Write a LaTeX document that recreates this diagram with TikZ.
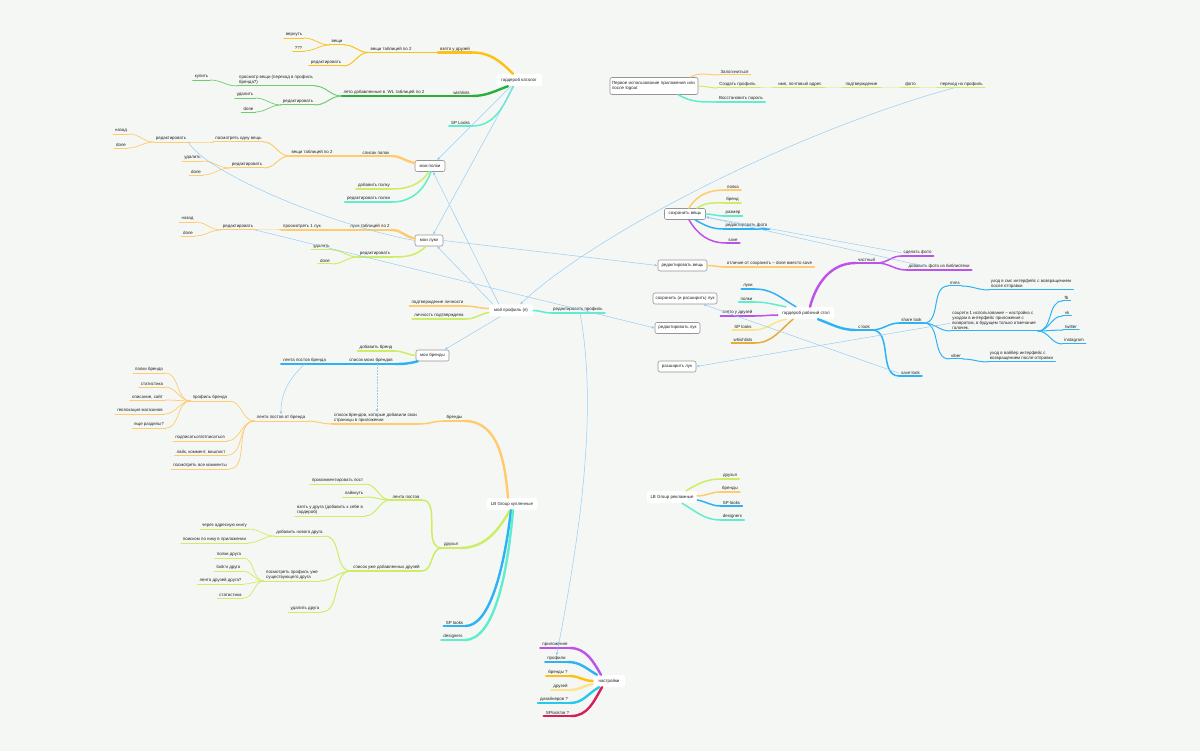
\documentclass[tikz,border=0pt]{standalone}
\usepackage{fontspec}
\setmainfont{Liberation Sans}
\usetikzlibrary{arrows.meta}
\definecolor{bg}{RGB}{245,247,244}
\definecolor{txt}{RGB}{35,35,35}
\definecolor{boxc}{RGB}{150,150,150}
\definecolor{cGold}{RGB}{255,192,20}
\definecolor{cOrange}{RGB}{255,203,110}
\definecolor{cGreen}{RGB}{40,175,60}
\definecolor{cLGreen}{RGB}{110,205,110}
\definecolor{cLime}{RGB}{205,238,100}
\definecolor{cTeal}{RGB}{95,238,205}
\definecolor{cBlue}{RGB}{45,178,245}
\definecolor{cPurple}{RGB}{190,80,235}
\definecolor{cPale}{RGB}{250,228,140}
\definecolor{cDOrange}{RGB}{232,172,60}
\definecolor{cCyan}{RGB}{40,200,235}
\definecolor{cCrimson}{RGB}{215,30,90}
\definecolor{cX}{RGB}{150,205,245}
\newcommand\mmfs{\fontsize{4.4}{5.2}\selectfont}
\newcommand\mmn[5]{\node[lbl] (#2) at (#3,#4) {#5};\draw[#1] (#2.south west) -- (#2.south east);}
\newcommand\lkl[3]{\draw[#1] (#2.south west) to[out=180,in=0] (#3.south east);}
\newcommand\lkr[3]{\draw[#1] (#2.south east) to[out=0,in=180] (#3.south west);}
\tikzset{
  lbl/.style={anchor=south,inner xsep=2pt,inner ysep=1pt,font=\mmfs,text=txt,align=left},
  gbox/.style={draw=boxc,fill=white,rounded corners=2pt,line width=0.6pt,font=\mmfs,text=txt,inner sep=0pt,minimum height=11pt},
  wbox/.style={fill=white,rounded corners=1.5pt,font=\mmfs,text=txt,inner sep=0pt,minimum height=12pt},
  wa/.style={line width=2.4pt,line cap=round},
  wb/.style={line width=1.5pt,line cap=round},
  wc/.style={line width=1pt,line cap=round},
  wd/.style={line width=0.7pt,line cap=round},
  xl/.style={draw=cX,line width=0.5pt,-{Latex[length=3pt,width=2.6pt]}},
}
\begin{document}
\begin{tikzpicture}[x=1pt,y=-1pt]
\fill[bg] (0,0) rectangle (1200,751);
\useasboundingbox (0,0) rectangle (1200,751);

% ===== гардероб каталог =====
\node[wbox,minimum width=46pt] (gk) at (519,80) {гардероб каталог};
\mmn{cGold,wa}{vzy}{455}{52.5}{взято у друзей}
\mmn{cGold,wb}{vtA}{391}{52.5}{вещи таблицей по 2}
\mmn{cGold,wc}{veshi}{337}{45}{вещи}
\mmn{cGold,wd}{vern}{294}{38}{вернуть}
\mmn{cGold,wd}{qqq}{298.5}{51}{???}
\mmn{cGold,wc}{redA}{326}{66}{редактировать}
\draw[cGold,wa] ([xshift=-6pt]gk.north) to[out=135,in=0] (vzy.south east);
\lkl{cGold,wb}{vzy}{vtA}
\lkl{cGold,wc}{vtA}{veshi}
\lkl{cGold,wc}{vtA}{redA}
\lkl{cGold,wd}{veshi}{vern}
\lkl{cGold,wd}{veshi}{qqq}

\mmn{cGreen,wa}{wl}{461.5}{96}{wishlists}
\mmn{cGreen,wb}{leto}{384}{96}{лето добавленные в\ \ WL таблицей по 2}
\mmn{cLGreen,wc}{prosm}{276}{86}{просмотр вещи (переход в профиль\\бренда?)}
\mmn{cLGreen,wd}{kupit}{201.5}{80}{купить}
\mmn{cLGreen,wc}{redB}{298}{105}{редактировать}
\mmn{cLGreen,wd}{udB}{245}{98}{удалить}
\mmn{cLGreen,wd}{doneB}{248.5}{112}{done}
\draw[cGreen,wa] ([xshift=-11pt]gk.south) to[out=-160,in=0] (wl.south east);
\lkl{cGreen,wb}{wl}{leto}
\lkl{cLGreen,wc}{leto}{prosm}
\lkl{cLGreen,wc}{leto}{redB}
\lkl{cLGreen,wd}{prosm}{kupit}
\lkl{cLGreen,wd}{redB}{udB}
\lkl{cLGreen,wd}{redB}{doneB}

\mmn{cTeal,wb}{spl}{460.5}{126}{SP Looks}
\draw[cTeal,wb] ([xshift=-6pt]gk.south) to[out=-115,in=0] (spl.south east);

% ===== мои полки =====
\node[gbox,minimum width=30pt] (polki) at (430,166) {мои полки};
\mmn{cOrange,wa}{spol}{376}{156}{список полок}
\mmn{cOrange,wb}{vtB}{312}{156}{вещи таблицей по 2}
\mmn{cOrange,wc}{posm}{238.5}{142}{посмотреть одну вещь}
\mmn{cOrange,wd}{redC}{171}{142}{редактировать}
\mmn{cOrange,wd}{nazC}{121}{134}{назад}
\mmn{cOrange,wd}{doneC}{121}{148}{done}
\mmn{cOrange,wc}{redD}{247}{168}{редактировать}
\mmn{cOrange,wd}{udD}{192.5}{161}{удалить}
\mmn{cOrange,wd}{doneD}{196}{175}{done}
\mmn{cLime,wb}{dobp}{374}{189}{добавить полку}
\mmn{cTeal,wb}{redp}{368.5}{202}{редактировать полки}
\draw[cOrange,wa] ([yshift=3pt]polki.west) to[out=170,in=0] (spol.south east);
\lkl{cOrange,wb}{spol}{vtB}
\lkl{cOrange,wc}{vtB}{posm}
\lkl{cOrange,wc}{vtB}{redD}
\lkl{cOrange,wd}{posm}{redC}
\lkl{cOrange,wd}{redC}{nazC}
\lkl{cOrange,wd}{redC}{doneC}
\lkl{cOrange,wd}{redD}{udD}
\lkl{cOrange,wd}{redD}{doneD}
\draw[cLime,wb] ([xshift=-1pt]polki.south) to[out=-125,in=0] (dobp.south east);
\draw[cTeal,wb] ([xshift=1pt]polki.south) to[out=-110,in=0] (redp.south east);

% ===== мои луки =====
\node[gbox,minimum width=28pt] (luki) at (429,240.5) {мои луки};
\mmn{cOrange,wa}{ltC}{370}{230}{луки таблицей по 2}
\mmn{cOrange,wb}{pl}{302}{230}{просмотреть 1 лук}
\mmn{cOrange,wc}{redE}{238}{230}{редактировать}
\mmn{cOrange,wd}{nazE}{187.5}{222}{назад}
\mmn{cOrange,wd}{doneE}{188}{236}{done}
\mmn{cLime,wb}{redF}{375}{257}{редактировать}
\mmn{cLime,wc}{udF}{321.5}{250}{удалить}
\mmn{cLime,wc}{doneF}{325}{264}{done}
\draw[cOrange,wa] ([yshift=2pt]luki.west) to[out=170,in=0] (ltC.south east);
\lkl{cOrange,wb}{ltC}{pl}
\lkl{cOrange,wc}{pl}{redE}
\lkl{cOrange,wd}{redE}{nazE}
\lkl{cOrange,wd}{redE}{doneE}
\draw[cLime,wb] ([xshift=-3pt]luki.south) to[out=-135,in=0] (redF.south east);
\lkl{cLime,wc}{redF}{udF}
\lkl{cLime,wc}{redF}{doneF}

% ===== первое использование =====
\node[gbox,minimum width=88pt,minimum height=17pt,text width=84pt,align=left] (fbx) at (654,86) {Первое использование приложения или\\после logout};
\mmn{cOrange,wc}{zal}{734.5}{75}{Залогиниться}
\mmn{cLime,wc}{sozd}{737.5}{88}{Создать профиль}
\mmn{cLime,wc}{imya}{800}{88}{имя, почтовый адрес}
\mmn{cLime,wc}{podt}{861.5}{88}{подтверждение}
\mmn{cLime,wc}{foto}{910.5}{88}{фото}
\mmn{cLime,wc}{perh}{961.5}{88}{переход на профиль}
\mmn{cTeal,wb}{vosst}{741}{102}{Восстановить пароль}
\draw[cOrange,wc] ([xshift=-8pt]fbx.north east) to[out=30,in=180] (zal.south west);
\draw[cLime,wc] (fbx.east) to[out=0,in=180] (sozd.south west);
\lkr{cLime,wc}{sozd}{imya}
\lkr{cLime,wc}{imya}{podt}
\lkr{cLime,wc}{podt}{foto}
\lkr{cLime,wc}{foto}{perh}
\draw[cTeal,wb] ([xshift=-20pt]fbx.south east) to[out=-30,in=180] (vosst.south west);

% ===== сохранить вещь =====
\node[gbox,minimum width=41pt] (sv) at (685,214) {сохранить вещь};
\mmn{cOrange,wb}{polka}{733}{190}{полка}
\mmn{cLime,wb}{brand}{732.5}{203}{бренд}
\mmn{cTeal,wb}{razm}{733}{216}{размер}
\mmn{cBlue,wb}{redf}{746.5}{229}{редактировать фото}
\mmn{cPurple,wb}{save}{733}{243}{save}
\draw[cOrange,wb] ([xshift=4pt]sv.north) to[out=60,in=180] (polka.south west);
\draw[cLime,wb] ([xshift=12pt]sv.north) to[out=35,in=180] (brand.south west);
\draw[cTeal,wb] (sv.east) to[out=0,in=180] (razm.south west);
\draw[cBlue,wb] ([xshift=10pt]sv.south) to[out=-30,in=180] (redf.south west);
\draw[cPurple,wb] ([xshift=4pt]sv.south) to[out=-60,in=180] (save.south west);

% ===== редактировать вещь =====
\node[gbox,minimum width=49pt] (rv) at (682.5,265.5) {редактировать вещь};
\mmn{cOrange,wb}{otl}{769.5}{267}{отличие от сохранить – done вместо save}
\draw[cOrange,wb] (rv.east) to[out=0,in=180] (otl.south west);

% ===== гардероб рабочий стол =====
\node[wbox,minimum width=56pt] (grs) at (806,313) {гардероб рабочий стол};
\mmn{cBlue,wb}{lukiG}{748}{289}{луки}
\mmn{cTeal,wb}{polkiG}{746.5}{302}{полки}
\mmn{cPurple,wb}{vzyG}{737.5}{316}{взято у друзей}
\mmn{cPale,wb}{splG}{743}{330}{SP looks}
\mmn{cDOrange,wb}{whG}{743}{343}{whishlists}
\draw[cBlue,wb] ([xshift=-10pt]grs.north) to[out=150,in=0] (lukiG.south east);
\draw[cTeal,wb] ([xshift=-20pt]grs.north) to[out=170,in=0] (polkiG.south east);
\draw[cPurple,wb] ([yshift=-2pt]grs.west) to[out=180,in=0] (vzyG.south east);
\draw[cPale,wb] ([xshift=-20pt]grs.south) to[out=-170,in=0] (splG.south east);
\draw[cDOrange,wb] ([xshift=-13pt]grs.south) to[out=-140,in=0] (whG.south east);
\mmn{cPurple,wa}{chast}{866.5}{263}{частный}
\mmn{cPurple,wb}{sdf}{917.5}{256}{сделать фото}
\mmn{cPurple,wb}{dfb}{939}{270}{добавить фото из библиотеки}
\draw[cPurple,wa] ([xshift=4pt]grs.north) to[out=75,in=180] (chast.south west);
\lkr{cPurple,wb}{chast}{sdf}
\lkr{cPurple,wb}{chast}{dfb}
\mmn{cBlue,wa}{clook}{864}{330}{с look}
\draw[cBlue,wa] ([xshift=12pt]grs.south) to[out=-20,in=180] (clook.south west);
\mmn{cBlue,wb}{share}{911.5}{323}{share look}
\mmn{cBlue,wb}{savel}{910.5}{376}{save look}
\lkr{cBlue,wb}{clook}{share}
\lkr{cBlue,wb}{clook}{savel}
\mmn{cBlue,wc}{mms}{955}{286}{mms}
\mmn{cBlue,wc}{socs}{994}{331}{соцсети 1 использование – настройка с\\уходом в интерфейс приложения с\\возвратом, в будущем только отмечание\\галочек.}
\mmn{cBlue,wc}{viber}{956}{359}{viber}
\lkr{cBlue,wc}{share}{mms}
\lkr{cBlue,wc}{share}{socs}
\lkr{cBlue,wc}{share}{viber}
\mmn{cBlue,wc}{uhsms}{1031}{290}{уход в смс интерфейс с возвращением\\после отправки}
\mmn{cBlue,wc}{uhv}{1021.5}{362}{уход в вайбер интерфейс с\\возвращением после отправки}
\lkr{cBlue,wc}{mms}{uhsms}
\lkr{cBlue,wc}{viber}{uhv}
\mmn{cBlue,wc}{fbk}{1066.5}{301}{fb}
\mmn{cBlue,wc}{vk}{1067}{316}{vk}
\mmn{cBlue,wc}{tw}{1071}{330}{twitter}
\mmn{cBlue,wc}{inst}{1074}{344}{instagram}
\lkr{cBlue,wc}{socs}{fbk}
\lkr{cBlue,wc}{socs}{vk}
\lkr{cBlue,wc}{socs}{tw}
\lkr{cBlue,wc}{socs}{inst}

% ===== лук boxes =====
\node[gbox,minimum width=64pt] (sirl) at (685,298.5) {сохранить (и расширить) лук};
\node[gbox,minimum width=45pt] (rl) at (677.5,328) {редактировать лук};
\node[gbox,minimum width=38pt] (rasl) at (677,366.5) {расширить лук};

% ===== мой профиль =====
\node[wbox,minimum width=44pt] (mp) at (511,310.5) {мой профиль (я)};
\mmn{cOrange,wb}{podl}{437.5}{306}{подтверждение личности}
\mmn{cLime,wb}{lich}{439}{319}{личность подтверждена}
\mmn{cTeal,wb}{redpr}{578}{313}{редактировать профиль}
\draw[cOrange,wb] ([yshift=2pt]mp.west) to[out=180,in=0] (podl.south east);
\draw[cLime,wb] ([yshift=-2pt]mp.west) to[out=-170,in=0] (lich.south east);
\draw[cTeal,wb] (mp.east) to[out=0,in=180] (redpr.south west);

% ===== мои бренды =====
\node[gbox,minimum width=33pt] (mb) at (432.5,355.5) {мои бренды};
\mmn{cLime,wb}{dobb}{376}{351}{добавить бренд}
\mmn{cBlue,wa}{smb}{371}{364}{список моих брендов}
\mmn{cBlue,wb}{lpb}{304.5}{364}{лента постов бренда}
\draw[cLime,wb] (mb.west) to[out=175,in=0] (dobb.south east);
\draw[cBlue,wa] ([xshift=2pt]mb.south west) to[out=-165,in=0] (smb.south east);
\lkl{cBlue,wb}{smb}{lpb}

% ===== LB Group купленные =====
\node[wbox,minimum width=50pt] (lbk) at (512,504) {LB Group купленные};
\mmn{cOrange,wa}{brk}{454.5}{421}{бренды}
\mmn{cOrange,wb}{spbr}{375.5}{424}{список брендов, которые добавили свои\\страницы в приложении}
\mmn{cOrange,wc}{lpob}{281}{421}{лента постов от бренда}
\mmn{cOrange,wd}{prb}{210}{401}{профиль бренда}
\mmn{cOrange,wd}{pbA}{149}{373}{полки бренда}
\mmn{cOrange,wd}{pbB}{152}{387}{статистика}
\mmn{cOrange,wd}{pbC}{147.5}{400}{описание, сайт}
\mmn{cOrange,wd}{pbD}{140}{414}{геолокация магазинов}
\mmn{cOrange,wd}{pbE}{149}{428}{еще разделы?}
\mmn{cOrange,wd}{pod}{200}{441}{подписаться/отписаться}
\mmn{cOrange,wd}{layk}{201}{455}{лайк, коммент, вишлист}
\mmn{cOrange,wd}{vsek}{200}{469}{посмотреть все комменты}
\draw[cOrange,wa] ([xshift=-4pt]lbk.north) to[out=95,in=0] (brk.south east);
\lkl{cOrange,wb}{brk}{spbr}
\lkl{cOrange,wc}{spbr}{lpob}
\lkl{cOrange,wd}{lpob}{prb}
\lkl{cOrange,wd}{prb}{pbA}
\lkl{cOrange,wd}{prb}{pbB}
\lkl{cOrange,wd}{prb}{pbC}
\lkl{cOrange,wd}{prb}{pbD}
\lkl{cOrange,wd}{prb}{pbE}
\lkl{cOrange,wd}{lpob}{pod}
\lkl{cOrange,wd}{lpob}{layk}
\lkl{cOrange,wd}{lpob}{vsek}

\mmn{cLime,wa}{dr}{451}{548}{друзья}
\mmn{cLime,wb}{lp}{406}{500}{лента постов}
\mmn{cLime,wc}{prk}{337.5}{484}{прокомментировать пост}
\mmn{cLime,wc}{layn}{354}{497}{лайкнуть}
\mmn{cLime,wc}{vzd}{330}{516}{взять у друга (добавить к себе в\\гардероб)}
\mmn{cLime,wb}{sud}{386.5}{571}{список уже добавленных друзей}
\mmn{cLime,wc}{dnd}{299.5}{536}{добавить нового друга}
\mmn{cLime,wd}{cherez}{224.5}{529}{через адресную книгу}
\mmn{cLime,wd}{poisk}{214.5}{543}{поиском по нику в приложении}
\mmn{cLime,wc}{pps}{292}{581}{посмотреть профиль уже\\существующего друга}
\mmn{cLime,wd}{pd}{229}{558}{полки друга}
\mmn{cLime,wd}{ld}{228.5}{571}{look'и друга}
\mmn{cLime,wd}{ldd}{220.5}{584}{лента друзей друга?}
\mmn{cLime,wd}{std}{230.5}{598}{статистика}
\mmn{cLime,wc}{udd}{305}{612}{удалить друга}
\draw[cLime,wa] ([xshift=-2pt]lbk.south) to[out=-120,in=0] (dr.south east);
\lkl{cLime,wb}{dr}{lp}
\lkl{cLime,wb}{dr}{sud}
\lkl{cLime,wc}{lp}{prk}
\lkl{cLime,wc}{lp}{layn}
\lkl{cLime,wc}{lp}{vzd}
\lkl{cLime,wc}{sud}{dnd}
\lkl{cLime,wc}{sud}{pps}
\lkl{cLime,wc}{sud}{udd}
\lkl{cLime,wd}{dnd}{cherez}
\lkl{cLime,wd}{dnd}{poisk}
\lkl{cLime,wd}{pps}{pd}
\lkl{cLime,wd}{pps}{ld}
\lkl{cLime,wd}{pps}{ldd}
\lkl{cLime,wd}{pps}{std}

\mmn{cBlue,wa}{spk}{454.5}{626}{SP looks}
\mmn{cTeal,wa}{dsk}{453}{640}{designers}
\draw[cBlue,wa] ([xshift=-1pt]lbk.south) .. controls +(-7,60) and +(24,0) .. (spk.south east);
\draw[cTeal,wa] ([xshift=1pt]lbk.south) .. controls +(-6,70) and +(28,0) .. (dsk.south east);

% ===== LB Group рекламные =====
\node[wbox,minimum width=50pt] (lbr) at (672,497) {LB Group рекламные};
\mmn{cLime,wb}{drl}{730}{479}{друзья}
\mmn{cOrange,wb}{brl}{730}{492}{бренды}
\mmn{cBlue,wb}{spr}{731.5}{506}{SP looks}
\mmn{cTeal,wb}{dsr}{732.5}{520}{designers}
\draw[cLime,wb] ([xshift=14pt]lbr.north) to[out=30,in=180] (drl.south west);
\draw[cOrange,wb] ([yshift=1pt]lbr.east) to[out=0,in=180] (brl.south west);
\draw[cBlue,wb] ([yshift=-3pt]lbr.east) to[out=-10,in=180] (spr.south west);
\draw[cTeal,wb] ([xshift=10pt]lbr.south) to[out=-30,in=180] (dsr.south west);

% ===== настройки =====
\node[wbox,minimum width=32pt] (nast) at (609,681) {настройки};
\mmn{cPurple,wa}{pril}{555}{648}{приложение}
\mmn{cBlue,wa}{prof}{556.5}{662}{профили}
\mmn{cGold,wa}{brn}{558}{676}{бренды ?}
\mmn{cPale,wa}{dru}{560.5}{690}{друзей}
\mmn{cCyan,wa}{diz}{554}{703}{дизайнеров ?}
\mmn{cCrimson,wa}{spn}{557.5}{716}{SPlook'ов ?}
\draw[cPurple,wa] ([xshift=-8pt]nast.north) to[out=120,in=0] (pril.south east);
\draw[cBlue,wa] ([xshift=-12pt]nast.north) to[out=150,in=0] (prof.south east);
\draw[cGold,wa] (nast.west) to[out=180,in=0] (brn.south east);
\draw[cPale,wa] ([yshift=-3pt]nast.west) to[out=190,in=0] (dru.south east);
\draw[cCyan,wa] ([xshift=-10pt]nast.south) to[out=-150,in=0] (diz.south east);
\draw[cCrimson,wa] ([xshift=-7pt]nast.south) to[out=-120,in=0] (spn.south east);

% ===== cross links =====
\draw[xl] ([xshift=-8pt]gk.south) -- ([xshift=7pt]polki.north);
\draw[xl] ([xshift=-5pt]gk.south) -- ([xshift=4pt]luki.north);
\draw[xl] ([xshift=-12pt]mp.north) -- ([xshift=3pt]polki.south);
\draw[xl] ([xshift=-18pt]mp.north) -- ([xshift=8pt]luki.south);
\draw[xl] ([xshift=-11pt]mp.south) -- ([xshift=12pt]mb.north);
\draw[xl] ([xshift=-8pt]perh.south) .. controls (800,130) and (600,230) .. ([xshift=9pt]mp.north);
\draw[xl] (luki.east) -- (rv.west);
\draw[xl] (redE.south east) -- (rl.west);
\draw[cX,line width=0.5pt] (redC.south east) .. controls (205,172) and (330,225) .. (luki.west);
\draw[xl] (lpb.south) .. controls +(-12,12) and +(0,-25) .. (lpob.north);
\draw[xl,densely dotted] ([xshift=6pt]smb.south) -- ([xshift=1.5pt]spbr.north);
\draw[xl] ([xshift=2pt]redpr.south) .. controls (600,420) and (575,560) .. (prof.north);
\draw[xl] (sdf.west) -- ([yshift=-3pt]sv.east);
\draw[xl] ([xshift=20pt]dfb.west) -- ([yshift=-3pt]sv.east);
\draw[xl] (savel.west) -- ([xshift=18pt]sirl.south);
\draw[xl] ([yshift=-3pt]socs.west) -- (rasl.east);
\end{tikzpicture}
\end{document}
